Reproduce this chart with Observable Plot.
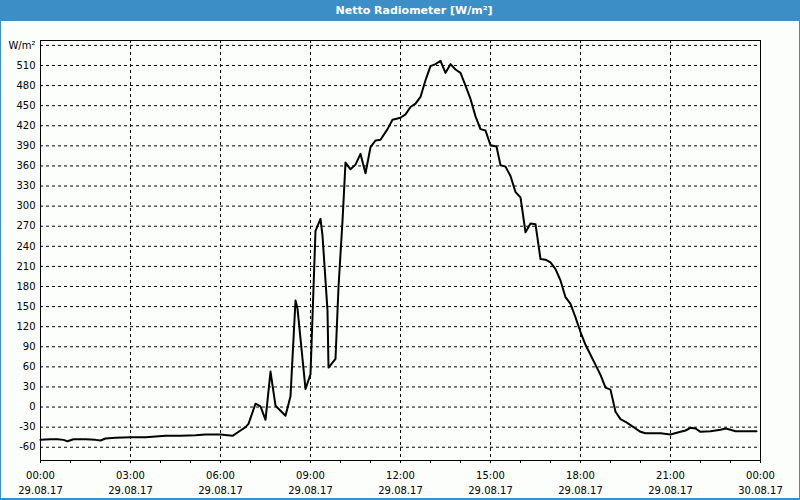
<!DOCTYPE html>
<html>
<head>
<meta charset="utf-8">
<script src="https://cdn.jsdelivr.net/npm/d3@7"></script>
<script src="https://cdn.jsdelivr.net/npm/@observablehq/plot@0.6"></script>
<style>
  html, body { margin: 0; padding: 0; background: #fcfefc; }
  #wrap { position: relative; width: 800px; height: 500px; background: #fcfefc; overflow: hidden; }
  #title { height: 21px; background: #3c8fc6; color: #fff; font-family: "DejaVu Sans", sans-serif; font-weight: bold; font-size: 11px; line-height: 21px; text-align: center; padding-left: 28px; box-sizing: border-box; }
  #border { position: absolute; left: 0; top: 0; width: 800px; height: 500px; box-sizing: border-box; border: 1px solid #3c8fc6; border-bottom-width: 2px; pointer-events: none; }
  svg { display: block; }
</style>
</head>
<body>
<div id="wrap">
  <div id="title">Netto Radiometer [W/m²]</div>
  <div id="chart"></div>
  <div id="border"></div>
</div>
<script>
// minutes since 00:00 on 29.08.17
const minutes = [0, 20, 34, 46, 54, 66, 90, 110, 120, 130, 150, 180, 210, 230, 250, 280, 310, 330, 340, 360,
  384, 400, 410, 416, 430, 440, 450, 460, 470, 490, 500, 510, 514, 530, 540, 550, 560, 564, 574, 576,
  590, 596, 604, 610, 620, 630, 640, 650, 660, 670, 680, 694, 704, 720, 730, 740, 750, 760, 770, 780,
  790, 800, 810, 820, 830, 840, 850, 860, 870, 880, 890, 900, 912, 920, 930, 940, 950, 960, 970, 980,
  990, 1000, 1010, 1020, 1030, 1040, 1050, 1060, 1070, 1080, 1090, 1100, 1110, 1120, 1130, 1140, 1150, 1160, 1170, 1180,
  1190, 1200, 1210, 1240, 1260, 1280, 1290, 1300, 1310, 1320, 1340, 1360, 1370, 1380, 1390, 1432];
// W/m²
const values = [-49, -48, -48, -49, -51, -48, -48, -49, -50, -47, -46, -45, -45, -44, -43, -43, -42, -41, -41, -41,
  -43, -35, -30, -25, 5, 1, -19, 53, 2, -13, 16, 159, 147, 27, 49, 263, 281, 256, 144, 59,
  72, 179, 278, 365, 355, 362, 378, 349, 388, 398, 399, 415, 429, 432, 437, 448, 453, 463, 488, 509,
  512, 517, 499, 512, 504, 499, 480, 460, 434, 415, 413, 391, 389, 361, 359, 345, 321, 313, 261, 274,
  273, 221, 220, 216, 206, 189, 164, 154, 134, 112, 93, 78, 63, 48, 29, 26, -7, -18, -22, -27,
  -32, -37, -39, -39, -41, -37, -35, -31, -32, -37, -36, -34, -32, -34, -36, -36];

const yTicks = [-60, -30, 0, 30, 60, 90, 120, 150, 180, 210, 240, 270, 300, 330, 360, 390, 420, 450, 480, 510, 540];
const yTopLabel = "W/m²";
const xLabelTicks = [0, 180, 360, 540, 720, 900, 1080, 1260, 1440];
const xTimeLabels = ["00:00", "03:00", "06:00", "09:00", "12:00", "15:00", "18:00", "21:00", "00:00"];
const xDateLabels = ["29.08.17", "29.08.17", "29.08.17", "29.08.17", "29.08.17", "29.08.17", "29.08.17", "29.08.17", "30.08.17"];
const xGridTicks = [180, 360, 540, 720, 900, 1080, 1260];
const hourTicks = d3.range(0, 1441, 60);

const data = minutes.map((m, i) => ({t: m, v: values[i]}));

const chart = Plot.plot({
  width: 800,
  height: 479,
  marginTop: 19,
  marginBottom: 40,
  marginLeft: 40,
  marginRight: 40,
  x: {domain: [0, 1440], label: null},
  y: {domain: [-79.8, 547.3], label: null},
  style: {fontFamily: "DejaVu Sans, sans-serif", fontSize: "10px", color: "#000", background: "transparent", overflow: "visible"},
  marks: [
    Plot.gridY(yTicks, {stroke: "#000", strokeOpacity: 1, strokeDasharray: "3,3"}),
    Plot.gridX(xGridTicks, {stroke: "#000", strokeOpacity: 1, strokeDasharray: "3,3"}),
    Plot.frame({stroke: "#000"}),
    Plot.axisY(yTicks, {label: null, tickSize: 0, tickPadding: 5, tickFormat: d => d === 540 ? yTopLabel : String(d)}),
    Plot.axisX(hourTicks, {label: null, tickSize: 3, tickFormat: () => ""}),
    Plot.axisX(xLabelTicks, {label: null, tickSize: 0, tickPadding: 8, lineHeight: 1.5,
      tickFormat: (d) => { const i = xLabelTicks.indexOf(d); return xTimeLabels[i] + "\n" + xDateLabels[i]; }}),
    Plot.line(data, {x: "t", y: "v", stroke: "#000", strokeWidth: 2})
  ]
});
document.getElementById("chart").appendChild(chart);
</script>
</body>
</html>
